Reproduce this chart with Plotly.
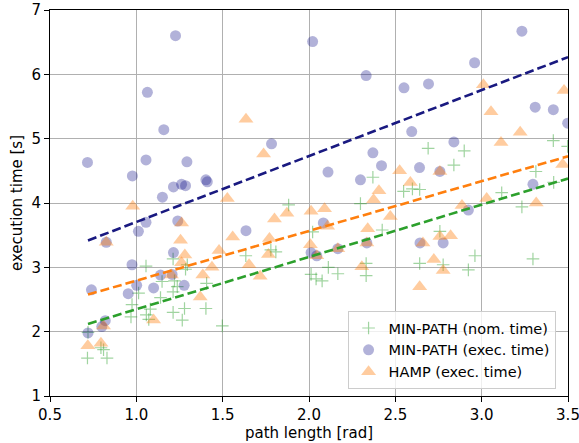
import plotly.graph_objects as go
import numpy as np

# MIN-PATH (nom. time) - green plus
nom_x = [0.717, 0.72, 0.795, 0.81, 0.83, 0.969, 0.975, 1.013, 1.056, 1.058, 1.072, 1.081,
         1.14, 1.149, 1.213, 1.213, 1.213, 1.221, 1.237, 1.266, 1.279, 1.285, 1.295, 1.403,
         1.407, 1.498, 1.634, 1.779, 1.808, 1.882, 2.012, 2.021, 2.041, 2.076, 2.112, 2.167,
         2.298, 2.331, 2.331, 2.37, 2.424, 2.548, 2.599, 2.641, 2.641, 2.69, 2.758, 2.777,
         2.839, 2.899, 2.923, 2.961, 3.116, 3.233, 3.297, 3.314, 3.415, 3.417, 3.498]
nom_y = [1.59, 1.99, 1.75, 1.72, 1.59, 2.23, 2.42, 2.60, 3.02, 2.26, 2.19, 2.35,
         2.53, 2.78, 2.30, 2.62, 3.13, 2.79, 2.70, 2.18, 2.36, 2.97, 3.04, 2.36,
         2.75, 2.09, 3.18, 3.27, 3.24, 3.97, 2.89, 3.55, 2.82, 2.79, 3.00, 2.90,
         3.99, 3.06, 2.87, 4.40, 3.58, 4.18, 4.22, 4.21, 3.06, 4.85, 3.56, 3.04,
         4.59, 4.81, 2.96, 3.18, 4.16, 3.94, 3.13, 4.49, 4.97, 4.32, 4.88]

# MIN-PATH (exec. time) - navy circles
exe_x = [0.717, 0.74, 0.72, 0.80, 0.82, 0.826, 0.953, 0.975, 0.977, 1.002, 1.012, 1.056,
         1.056, 1.064, 1.10, 1.14, 1.151, 1.159, 1.207, 1.215, 1.215, 1.227, 1.24, 1.262,
         1.277, 1.285, 1.293, 1.403, 1.411, 1.635, 1.783, 2.012, 2.021, 2.045, 2.083, 2.11,
         2.167, 2.298, 2.331, 2.335, 2.37, 2.42, 2.55, 2.595, 2.64, 2.643, 2.692, 2.758,
         2.777, 2.839, 2.923, 2.959, 3.233, 3.297, 3.31, 3.415, 3.498]
exe_y = [4.63, 2.65, 1.98, 2.08, 2.17, 3.39, 2.59, 3.04, 4.42, 2.72, 3.56, 3.70,
         4.67, 5.72, 2.68, 2.88, 4.09, 5.14, 2.89, 3.23, 4.25, 6.60, 3.72, 4.29,
         2.72, 4.27, 4.64, 4.36, 4.33, 3.57, 4.92, 3.23, 6.51, 3.18, 3.69, 4.48,
         3.29, 4.36, 5.98, 3.38, 4.78, 4.58, 5.79, 5.11, 4.55, 3.38, 5.85, 4.49,
         3.38, 4.95, 3.89, 6.18, 6.67, 4.29, 5.49, 5.45, 5.24]

# HAMP (exec. time) - orange triangles
hamp_x = [0.719, 0.795, 0.81, 0.826, 0.979, 1.10, 1.203, 1.256, 1.262, 1.262, 1.281, 1.37,
          1.385, 1.438, 1.479, 1.527, 1.558, 1.635, 1.653, 1.717, 1.737, 1.765, 1.771, 1.80,
          1.872, 2.008, 2.012, 2.045, 2.09, 2.108, 2.167, 2.306, 2.335, 2.34, 2.374, 2.405,
          2.471, 2.525, 2.587, 2.641, 2.66, 2.723, 2.758, 2.758, 2.777, 2.82, 2.886, 3.01,
          3.029, 3.054, 3.112, 3.223, 3.316, 3.469, 3.477]
hamp_y = [1.78, 1.82, 2.09, 3.39, 3.95, 2.18, 2.88, 3.42, 3.69, 3.07, 3.19, 2.54,
          2.88, 3.00, 3.26, 4.07, 3.47, 5.30, 3.04, 2.86, 4.76, 3.20, 3.45, 3.75,
          3.84, 3.35, 3.87, 3.18, 3.91, 3.64, 3.29, 3.01, 3.38, 3.60, 4.05, 4.19,
          3.79, 4.50, 4.32, 2.70, 3.38, 3.12, 3.48, 4.49, 2.95, 3.49, 3.96, 5.84,
          4.07, 5.42, 4.94, 5.10, 4.00, 4.60, 5.75]

# linear trend fits: [slope, intercept]
fit_exe = [1.025, 2.68]
fit_hamp = [0.773, 2.02]
fit_nom = [0.813, 1.535]
fit_range = [0.72, 3.5]

x_ticks = [0.5, 1.0, 1.5, 2.0, 2.5, 3.0, 3.5]
y_ticks = [1, 2, 3, 4, 5, 6, 7]

FONT = "DejaVu Sans"
FS = 15
fig = go.Figure()

fig.add_trace(go.Scatter(
    x=nom_x, y=nom_y, mode="markers", name="MIN-PATH (nom. time)",
    marker=dict(symbol="cross-thin", size=9, color="rgba(44,160,44,0.45)",
                line=dict(width=1.2, color="rgba(44,160,44,0.45)"))))
fig.add_trace(go.Scatter(
    x=exe_x, y=exe_y, mode="markers", name="MIN-PATH (exec. time)",
    marker=dict(symbol="circle", size=11, color="rgba(0,0,128,0.3)", line=dict(width=0))))
fig.add_trace(go.Scatter(
    x=hamp_x, y=hamp_y, mode="markers", name="HAMP (exec. time)",
    marker=dict(symbol="triangle-up", size=13, color="rgba(255,127,14,0.4)", line=dict(width=0))))

xs = np.array(fit_range)
for fit, col in [(fit_exe, "#191980"), (fit_hamp, "#ff7f0e"), (fit_nom, "#2ca02c")]:
    fig.add_trace(go.Scatter(
        x=xs, y=fit[0] * xs + fit[1], mode="lines", showlegend=False,
        line=dict(color=col, width=2.6, dash="9px,4px")))

axis_common = dict(
    showline=True, linecolor="black", linewidth=1, mirror=True,
    showgrid=True, gridcolor="#b0b0b0", gridwidth=1,
    ticks="outside", ticklen=5, tickcolor="black", tickwidth=1,
    zeroline=False, automargin=False, ticklabeloverflow="allow",
    tickfont=dict(family=FONT, size=FS, color="black"),
)
fig.update_xaxes(range=[0.5, 3.5], tickvals=x_ticks, ticktext=[f"{v:.1f}" for v in x_ticks],
                 title=dict(text="path length [rad]", font=dict(family=FONT, size=FS, color="black"),
                            standoff=2), **axis_common)
fig.update_yaxes(range=[1, 7], tickvals=y_ticks, ticktext=[str(v) for v in y_ticks],
                 title=dict(text="execution time [s]", font=dict(family=FONT, size=FS, color="black"),
                            standoff=5), **axis_common)

fig.update_layout(
    width=579, height=443,
    margin=dict(l=50, r=11, t=10, b=47),
    plot_bgcolor="white", paper_bgcolor="white",
    font=dict(family=FONT, size=FS, color="black"),
    legend=dict(x=0.976, y=0.018, xanchor="right", yanchor="bottom",
                bgcolor="rgba(255,255,255,0.8)", bordercolor="#cccccc", borderwidth=1,
                font=dict(family=FONT, size=14.5, color="black"),
                tracegroupgap=0, itemwidth=30),
)

fig.write_html("out.html", config={"displayModeBar": False},
               post_script="document.body.style.margin='0';")
